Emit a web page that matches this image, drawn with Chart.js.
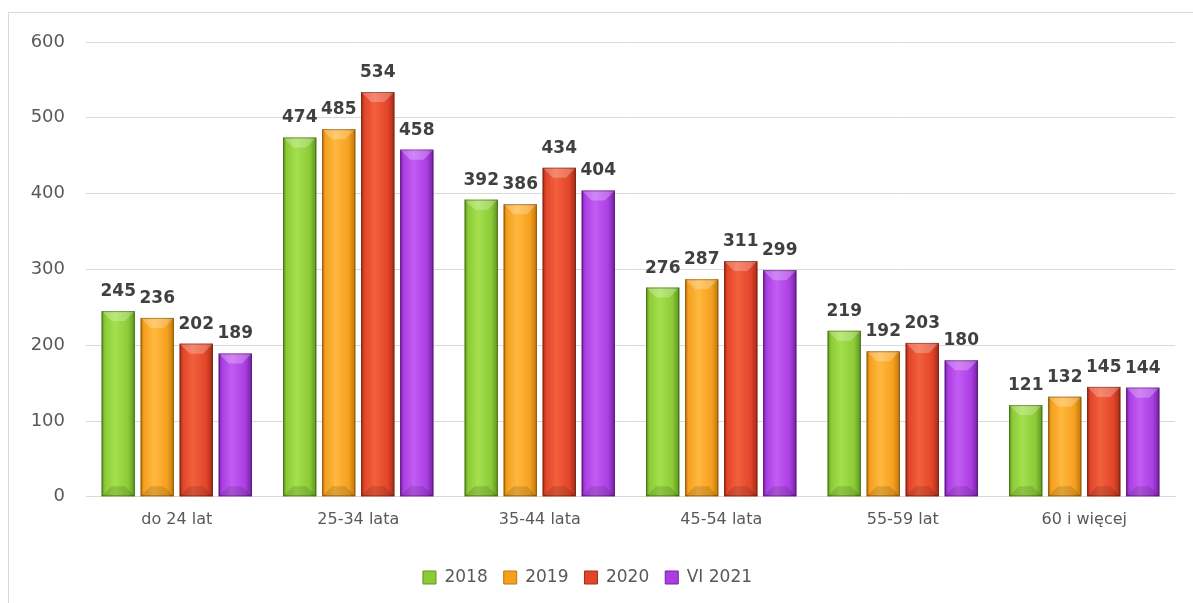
<!DOCTYPE html>
<html><head><meta charset="utf-8">
<script src="https://cdn.jsdelivr.net/npm/chart.js@4"></script>
<style>html,body{margin:0;padding:0;background:#fff;}#wrap{width:1193px;height:603px;position:relative;}</style>
</head><body><div id="wrap"><canvas id="c" width="1193" height="603"></canvas></div>
<script>
const categories = ['do 24 lat','25-34 lata','35-44 lata','45-54 lata','55-59 lat','60 i więcej'];
const seriesNames = ['2018','2019','2020','VI 2021'];
const v2018 = [245,474,392,276,219,121];
const v2019 = [236,485,386,287,192,132];
const v2020 = [202,534,434,311,203,145];
const v2021 = [189,458,404,299,180,144];
const yTicks = [0,100,200,300,400,500,600];

const palette = [
  {mid:'#8cca36', light:'#a4e04e', dark:'#5c9620'},
  {mid:'#f5a01e', light:'#ffb83e', dark:'#c0760e'},
  {mid:'#e2452a', light:'#f2603c', dark:'#a42c16'},
  {mid:'#ab3ee2', light:'#c25cf4', dark:'#7420a2'}
];
const FONT = "'DejaVu Sans', sans-serif";

const framePlugin = {
  id:'frame',
  beforeDraw(chart){
    const c = chart.ctx; c.save();
    c.strokeStyle='#d9d9d9'; c.lineWidth=1;
    c.strokeRect(8.5,12.5,1300,700);
    c.restore();
  }
};

const bevelPlugin = {
  id:'bevel',
  afterDatasetsDraw(chart){
    const c = chart.ctx;
    chart.data.datasets.forEach((ds,di)=>{
      const meta = chart.getDatasetMeta(di);
      const p = palette[di];
      meta.data.forEach((el,idx)=>{
        const x0 = el.x - el.width/2, x1 = el.x + el.width/2, top = el.y, bot = el.base, w = el.width;
        c.save();
        const g = c.createLinearGradient(x0,0,x1,0);
        g.addColorStop(0,p.dark); g.addColorStop(0.1,p.mid); g.addColorStop(0.4,p.light);
        g.addColorStop(0.8,p.mid); g.addColorStop(1,p.dark);
        c.fillStyle = g; c.fillRect(x0,top,w,bot-top);
        const bh = 10;
        c.beginPath(); c.moveTo(x0,top); c.lineTo(x1,top); c.lineTo(x1-bh,top+bh); c.lineTo(x0+bh,top+bh); c.closePath();
        c.fillStyle='rgba(255,255,255,0.25)'; c.fill();
        c.beginPath(); c.moveTo(x0,bot); c.lineTo(x1,bot); c.lineTo(x1-bh,bot-bh); c.lineTo(x0+bh,bot-bh); c.closePath();
        c.fillStyle='rgba(0,0,0,0.12)'; c.fill();
        c.strokeStyle='rgba(0,0,0,0.3)'; c.lineWidth=1;
        c.strokeRect(x0+0.5,top+0.5,w-1,bot-top-1);
        c.restore();
        c.save();
        c.font = "bold 17px " + FONT; c.fillStyle='#404040';
        c.textAlign='center'; c.textBaseline='bottom';
        c.fillText(String(ds.data[idx]), el.x, top-11);
        c.restore();
      });
    });
  }
};

const datasets = [v2018,v2019,v2020,v2021].map((arr,i)=>({
  label: seriesNames[i], data: arr,
  backgroundColor: palette[i].mid, borderWidth:0,
  categoryPercentage:0.86, barPercentage:0.85
}));

new Chart(document.getElementById('c'),{
  type:'bar',
  data:{labels:categories, datasets},
  options:{
    responsive:false, animation:false,
    layout:{padding:{top:42,right:18,left:0,bottom:7}},
    scales:{
      y:{min:0,max:600,
        afterBuildTicks(s){ s.ticks = yTicks.map(v=>({value:v})); },
        afterFit(s){ s.width = 86; },
        grid:{color:'#d9d9d9',lineWidth:1,drawTicks:false},
        border:{display:false},
        ticks:{padding:21,color:'#595959',font:{family:FONT,size:18}}
      },
      x:{
        afterFit(s){ s.height += 11; },
        grid:{display:false,drawTicks:false},
        border:{display:true,color:'#d9d9d9',width:1},
        ticks:{padding:13,color:'#595959',font:{family:FONT,size:16}}
      }
    },
    plugins:{
      legend:{position:'bottom',
        labels:{boxWidth:13,boxHeight:13,color:'#595959',padding:16,font:{family:FONT,size:17},
          generateLabels(chart){
            return chart.data.datasets.map((d,i)=>({text:d.label,fillStyle:palette[i].mid,strokeStyle:palette[i].dark,lineWidth:1,datasetIndex:i,fontColor:'#595959'}));
          }}
      },
      tooltip:{enabled:false}
    }
  },
  plugins:[framePlugin,bevelPlugin]
});
</script></body></html>
